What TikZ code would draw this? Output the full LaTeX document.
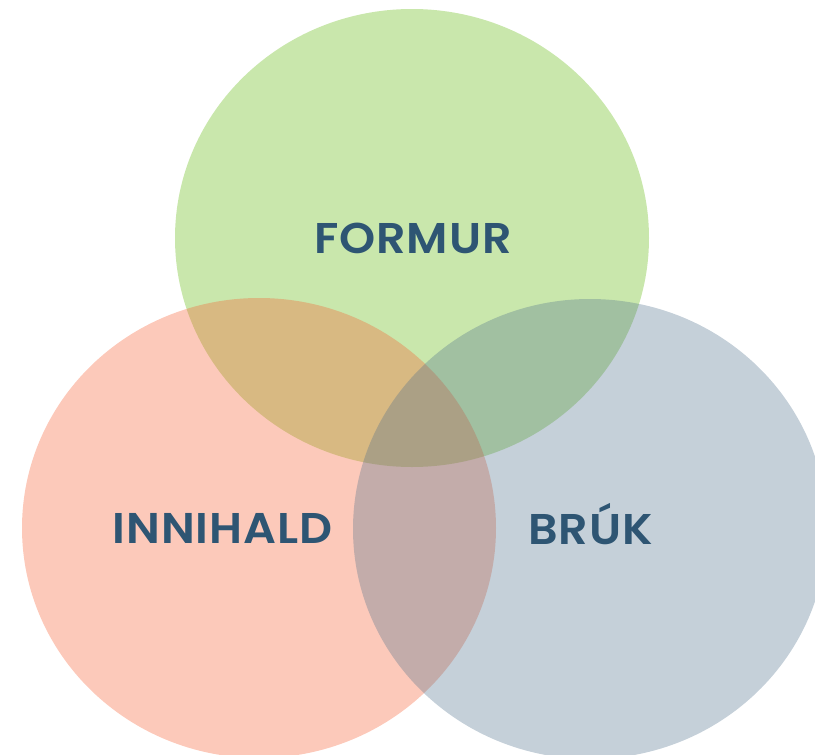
\documentclass[tikz,border=0pt]{standalone}
\usepackage{fontspec}
\newfontfamily\setfont{Poppins}[UprightFont=* SemiBold, FakeStretch=1.07, LetterSpace=2]
\definecolor{formurgreen}{RGB}{91,182,3}
\definecolor{innihaldred}{RGB}{246,91,45}
\definecolor{brukblue}{RGB}{79,112,139}
\definecolor{labelblue}{RGB}{46,85,115}
\tikzset{
  setfill/.style={fill opacity=0.33},
  setlabel/.style={anchor=base, inner sep=0pt, text=labelblue,
    font=\setfont\fontsize{43}{43}\selectfont}
}
\begin{document}
\begin{tikzpicture}[x=1pt,y=-1pt]
      \useasboundingbox (0,0) rectangle (815,755);
      \clip (0,0) rectangle (815,755);
      \fill[setfill, formurgreen] (412,238) ellipse [x radius=237, y radius=229];
      \fill[setfill, innihaldred] (259,528) ellipse [x radius=237, y radius=230];
      \fill[setfill, brukblue] (590,529) ellipse [x radius=237, y radius=230];
      \draw[setlabel]
        (413,253.5) node (formur){FORMUR}
        (222.5,543) node (innihald){INNIHALD}
        (590.5,544) node (bruk){BRÚK};
    \end{tikzpicture}
\end{document}
